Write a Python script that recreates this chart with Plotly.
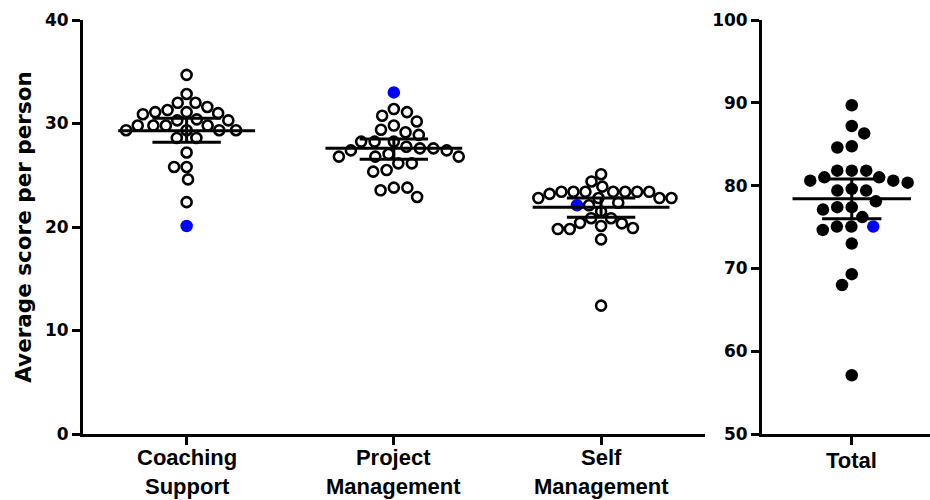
import numpy as np
import plotly.graph_objects as go

# ---- data -------------------------------------------------------------
categories = [("Coaching", "Support"), ("Project", "Management"), ("Self", "Management")]
total_label = "Total"

coaching = [34.7, 32.85, 32.0, 32.0, 31.6, 31.3, 31.1, 31.0, 31.1, 30.9, 30.4,
            30.3, 30.3, 29.8, 29.8, 29.8, 29.8, 29.35, 29.35, 29.35, 29.35,
            28.6, 28.6, 27.2, 25.8, 25.8, 24.6, 22.4]
project = [31.4, 31.1, 30.75, 30.2, 29.8, 29.4, 29.15, 28.9, 28.25, 28.25,
           28.25, 27.76, 27.6, 27.6, 27.4, 27.4, 27.05, 26.8, 26.8, 26.8,
           26.15, 26.15, 25.5, 25.35, 23.8, 23.8, 23.55, 22.9]
self_management = [25.1, 24.4, 23.9, 23.4, 23.4, 23.4, 23.4, 23.4, 23.4, 23.4,
                   23.2, 22.8, 22.8, 22.8, 22.8, 22.35, 22.1, 21.5, 20.85, 20.85,
                   20.4, 20.35, 20.1, 19.9, 19.8, 19.8, 18.8, 12.4]
# highlighted individual in each category (blue)
highlight = [20.1, 33.0, 22.1]

total = [89.7, 87.2, 86.3, 84.75, 84.6, 81.8, 81.8, 81.8, 81.0, 81.0, 80.6,
         80.6, 80.35, 79.6, 79.4, 79.4, 78.1, 77.4, 77.4, 77.1, 76.2, 75.05,
         75.05, 74.65, 73.0, 69.3, 68.0, 57.1]
highlight_total = 75.05

# mean with 95% confidence interval
group_mean = [29.3, 27.6, 21.9]
group_ci_low = [28.2, 26.55, 20.95]
group_ci_high = [30.5, 28.5, 22.8]
total_mean = 78.4
total_ci_low = 76.0
total_ci_high = 80.8

# ---- layout geometry ----------------------------------------------------
W, H = 930, 500
MARGIN = dict(l=83, r=0, t=20, b=66)
LEFT_DOMAIN = [0.0, 0.734]
RIGHT_DOMAIN = [0.8017, 1.0]
LEFT_XRANGE = [-0.5, 2.5]
RIGHT_XRANGE = [-0.5, 0.436]
LEFT_YRANGE = [0, 40]
RIGHT_YRANGE = [50, 100]

plot_w = W - MARGIN["l"] - MARGIN["r"]
plot_h = H - MARGIN["t"] - MARGIN["b"]
left_px_x = plot_w * (LEFT_DOMAIN[1] - LEFT_DOMAIN[0]) / (LEFT_XRANGE[1] - LEFT_XRANGE[0])
left_px_y = plot_h / (LEFT_YRANGE[1] - LEFT_YRANGE[0])
right_px_x = plot_w * (RIGHT_DOMAIN[1] - RIGHT_DOMAIN[0]) / (RIGHT_XRANGE[1] - RIGHT_XRANGE[0])
right_px_y = plot_h / (RIGHT_YRANGE[1] - RIGHT_YRANGE[0])


def swarm_offsets(values, px_x, px_y, diam):
    """Beeswarm layout: horizontal offsets (axis units) so points don't overlap."""
    vals = np.asarray(values, dtype=float)
    order = np.argsort(-vals, kind="stable")
    placed = []
    offsets = np.zeros(len(vals))
    for n, idx in enumerate(order):
        y = vals[idx] * px_y
        intervals = []
        for px, py in placed:
            dy = abs(py - y)
            if dy < diam:
                w = np.sqrt(diam ** 2 - dy ** 2)
                intervals.append((px - w, px + w))
        sign = -1 if n % 2 else 1
        cands = [0.0] + [e for iv in intervals for e in iv]
        cands.sort(key=lambda c: (round(abs(c), 4), -sign * c))
        chosen = 0.0
        for c in cands:
            if all(not (a + 1e-6 < c < b - 1e-6) for a, b in intervals):
                chosen = c
                break
        placed.append((chosen, y))
        offsets[idx] = chosen / px_x
    return offsets


fig = go.Figure()

# ---- left panel: open circles per category -------------------------------
groups = [coaching, project, self_management]
swarm_diam = [12.5, 13.5, 12.0]
for i, (vals, hl) in enumerate(zip(groups, highlight)):
    allv = list(vals) + [hl]
    off = swarm_offsets(allv, left_px_x, left_px_y, swarm_diam[i])
    xs = i + off
    fig.add_trace(go.Scatter(
        x=xs[:-1], y=vals, mode="markers", xaxis="x", yaxis="y",
        marker=dict(symbol="circle-open", size=10, color="black",
                    line=dict(width=2.6, color="black")),
        showlegend=False, hoverinfo="y"))
    fig.add_trace(go.Scatter(
        x=[xs[-1]], y=[hl], mode="markers", xaxis="x", yaxis="y",
        marker=dict(symbol="circle", size=12.5, color="#0000ff"),
        showlegend=False, hoverinfo="y"))

# mean lines and CI whiskers
MEAN_HALF = 0.33
CAP_HALF = 0.165
lx, ly = [], []
for i, (m, lo, hi) in enumerate(zip(group_mean, group_ci_low, group_ci_high)):
    lx += [i - MEAN_HALF, i + MEAN_HALF, None, i, i, None,
           i - CAP_HALF, i + CAP_HALF, None, i - CAP_HALF, i + CAP_HALF, None]
    ly += [m, m, None, lo, hi, None, lo, lo, None, hi, hi, None]
fig.add_trace(go.Scatter(x=lx, y=ly, mode="lines", xaxis="x", yaxis="y",
                         line=dict(color="black", width=3),
                         showlegend=False, hoverinfo="skip"))

# ---- right panel: total score -----------------------------------------
allt = list(total) + [highlight_total]
offt = swarm_offsets(allt, right_px_x, right_px_y, 14.5)
fig.add_trace(go.Scatter(
    x=offt[:-1], y=total, mode="markers", xaxis="x2", yaxis="y2",
    marker=dict(symbol="circle", size=12.5, color="black"),
    showlegend=False, hoverinfo="y"))
fig.add_trace(go.Scatter(
    x=[offt[-1]], y=[highlight_total], mode="markers", xaxis="x2", yaxis="y2",
    marker=dict(symbol="circle", size=12.5, color="#0000ff"),
    showlegend=False, hoverinfo="y"))
fig.add_trace(go.Scatter(
    x=[-MEAN_HALF, MEAN_HALF, None, 0, 0, None, -CAP_HALF, CAP_HALF, None,
       -CAP_HALF, CAP_HALF],
    y=[total_mean, total_mean, None, total_ci_low, total_ci_high, None,
       total_ci_low, total_ci_low, None, total_ci_high, total_ci_high],
    mode="lines", xaxis="x2", yaxis="y2",
    line=dict(color="black", width=3), showlegend=False, hoverinfo="skip"))

# ---- axes ---------------------------------------------------------------
tick_font = dict(family="DejaVu Sans", size=17, color="black", weight="bold")
label_font = dict(family="Liberation Sans", size=22, color="black", weight="bold")
axis_common = dict(showline=True, linecolor="black", linewidth=3,
                   ticks="outside", ticklen=8, tickwidth=3, tickcolor="black",
                   showgrid=False, zeroline=False, tickfont=tick_font)

# category labels under each tick (two lines each)
annotations = []
for i, (l1, l2) in enumerate(categories):
    annotations.append(dict(x=i, xref="x", y=0, yref="paper",
                            text=f"{l1}<br>{l2}", showarrow=False,
                            yanchor="middle", yshift=-38, borderpad=0,
                            font=label_font))
annotations.append(dict(x=0, xref="x2", y=0, yref="paper", text=total_label,
                        showarrow=False, yanchor="middle", yshift=-26,
                        borderpad=0, font=label_font))

fig.update_layout(
    width=W, height=H, margin=MARGIN,
    paper_bgcolor="white", plot_bgcolor="white",
    annotations=annotations,
    xaxis=dict(domain=LEFT_DOMAIN, range=LEFT_XRANGE, tickmode="array",
               tickvals=[0, 1, 2], showticklabels=False, anchor="y",
               **axis_common),
    yaxis=dict(domain=[0, 1], range=LEFT_YRANGE, tickvals=[0, 10, 20, 30, 40],
               anchor="x",
               title=dict(text="Average score per person", standoff=8,
                          font=dict(family="DejaVu Sans", size=21.5,
                                    color="black", weight="bold")),
               **axis_common),
    xaxis2=dict(domain=RIGHT_DOMAIN, range=RIGHT_XRANGE, tickmode="array",
                tickvals=[0], showticklabels=False, anchor="y2", **axis_common),
    yaxis2=dict(domain=[0, 1], range=RIGHT_YRANGE,
                tickvals=[50, 60, 70, 80, 90, 100], anchor="x2",
                **axis_common),
)

fig.write_html("out.html")
